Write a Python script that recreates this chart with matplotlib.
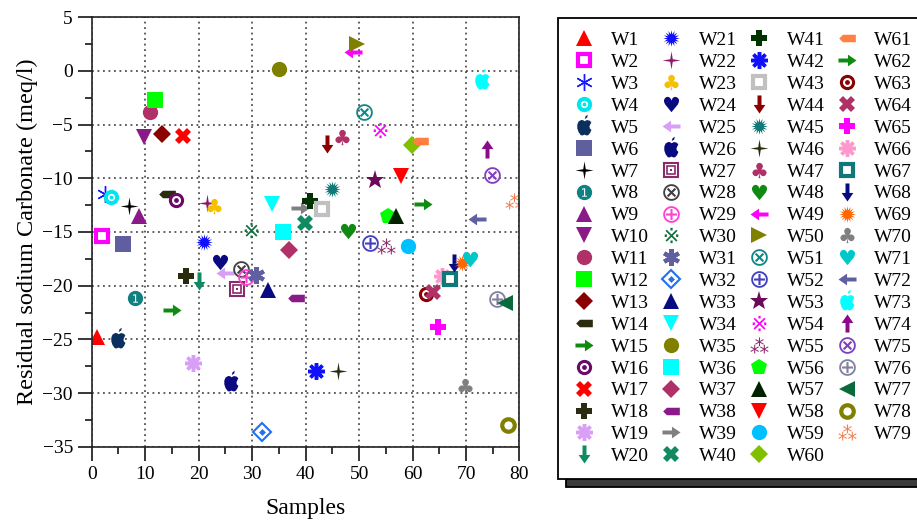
import numpy as np
import matplotlib
matplotlib.use("Agg")
import matplotlib.pyplot as plt
from matplotlib.path import Path
from matplotlib.transforms import Affine2D
from matplotlib.patches import Rectangle

plt.rcParams['font.family'] = ['Liberation Serif', 'DejaVu Serif']
plt.rcParams['mathtext.fontset'] = 'dejavusans'

# Data
wells = [f"W{i}" for i in range(1, 80)]
samples = [0.9, 1.9, 2.5, 3.7, 5.0, 5.8, 7.0, 8.1, 8.9, 9.8,
           10.9, 11.8, 13.1, 14.0, 15.0, 15.8, 17.0, 17.6, 19.0, 20.1,
           21.0, 21.5, 22.9, 24.0, 24.9, 26.0, 27.1, 28.0, 28.8, 29.8,
           30.8, 31.8, 33.0, 33.8, 35.0, 35.8, 36.9, 38.2, 39.0, 39.9,
           40.8, 41.9, 43.0, 44.0, 45.0, 46.1, 46.8, 48.0, 48.9, 49.6,
           51.0, 52.0, 53.0, 53.9, 55.0, 55.4, 56.9, 57.9, 59.1, 59.9,
           61.4, 62.0, 62.5, 63.9, 64.8, 65.6, 67.0, 67.7, 69.2, 69.9,
           70.8, 72.0, 72.9, 73.9, 74.9, 75.8, 77.3, 77.9, 79.0]
rsc = [-24.8, -15.4, -11.5, -11.7, -25.0, -16.1, -12.6, -21.1, -13.5, -6.2,
       -3.8, -2.7, -5.9, -11.5, -22.3, -12.0, -6.1, -19.1, -27.2, -19.6,
       -15.9, -12.3, -12.6, -17.8, -18.8, -29.0, -20.3, -18.4, -19.2, -14.8,
       -19.0, -33.6, -20.4, -12.4, 0.15, -15.0, -16.7, -21.1, -12.8, -14.2,
       -12.1, -27.9, -12.9, -6.8, -11.0, -27.9, -6.2, -14.9, 1.7, 2.5,
       -3.8, -16.0, -10.2, -5.5, -16.3, -13.5, -13.5, -9.8, -16.3, -6.9,
       -6.5, -12.4, -20.8, -20.6, -23.8, -19.1, -19.4, -17.9, -17.9, -29.3,
       -17.5, -13.75, -0.9, -7.3, -9.7, -21.2, -21.6, -33.0, -12.1]

# Symbol kind and colour for each well (Origin-like symbol cycle)
kinds = ['tri_up', 'hsq', 'ast_thin', 'dotcirc', 'apple', 'sq', 'star4', 'circ1', 'tri_up', 'tri_dn',
         'circ', 'sq', 'diamond', 'tag', 'arrow_r', 'dotcirc2', 'X', 'P', 'ast8', 'arrow_d',
         'burst', 'star4', 'club', 'heart', 'arrow_l', 'apple', 'csq', 'otimes', 'oplus', 'refmark',
         'ast6', 'cdiamond', 'tri_up', 'tri_dn', 'circ', 'sq', 'diamond', 'tag', 'arrow_r', 'X',
         'P', 'ast8', 'hsq', 'arrow_d', 'burst', 'star4', 'club', 'heart', 'arrow_l', 'tri_r',
         'otimes', 'oplus', 'star5', 'refmark', 'asterism', 'pent', 'tri_up', 'tri_dn', 'circ', 'diamond',
         'tag', 'arrow_r', 'dotcirc2', 'X', 'P', 'ast8', 'hsq', 'arrow_d', 'burst', 'club',
         'heart', 'arrow_l', 'apple', 'arrow_u', 'otimes', 'oplus', 'tri_l', 'ring', 'asterism']
colors = ['#ff0000', '#ff00ff', '#1a1aff', '#00e5ee', '#0b2f5e', '#5f5fa0', '#000000', '#108080', '#8b1a89', '#8b1a89',
          '#b03068', '#00ff00', '#8b0000', '#2b2b10', '#108a10', '#6b0a6b', '#ff0000', '#2b2b10', '#d8a0f5', '#108a60',
          '#1010ff', '#8b1a6b', '#f5c000', '#0a0a80', '#d8a0f5', '#0a0a80', '#8b2a6b', '#404040', '#ff40d0', '#107040',
          '#6060a0', '#2070f0', '#0a0a80', '#00ffff', '#808000', '#00ffff', '#b03068', '#8b1a89', '#808080', '#108a60',
          '#003300', '#1010ff', '#c0c0c0', '#8b0000', '#107878', '#2b2b10', '#b03068', '#108a10', '#ff00ff', '#808000',
          '#108888', '#4040c0', '#6b0a5b', '#ff00ff', '#8b2a6b', '#00ff00', '#002200', '#ff0000', '#00c0ff', '#80c000',
          '#ff8040', '#108a10', '#8b0000', '#b03068', '#ff00ff', '#ff99cc', '#107878', '#0a0a80', '#ff6600', '#808080',
          '#00c8c8', '#6060a0', '#00ffff', '#8b0a89', '#8040c0', '#8080a0', '#0a6a3a', '#808000', '#f08050']


def poly(pts):
    v = np.array(pts, dtype=float)
    return Path(np.vstack([v, v[:1]]), closed=True)


arrow_path = poly([(-1, 0.22), (0.05, 0.22), (0.05, 0.65), (1, 0), (0.05, -0.65), (0.05, -0.22), (-1, -0.22)])
tag_path = poly([(-1, 0), (-0.55, 0.45), (1, 0.45), (1, -0.45), (-0.55, -0.45)])
star4_path = poly([(0, 1), (0.14, 0.14), (1, 0), (0.14, -0.14), (0, -1), (-0.14, -0.14), (-1, 0), (-0.14, 0.14)])
apple_body = poly([(0, 0.42), (0.2, 0.52), (0.42, 0.47), (0.55, 0.33), (0.47, 0.18), (0.4, 0.02),
                   (0.43, -0.16), (0.56, -0.27), (0.45, -0.52), (0.3, -0.7), (0.15, -0.72), (0, -0.65),
                   (-0.15, -0.72), (-0.3, -0.7), (-0.48, -0.45), (-0.58, -0.15), (-0.58, 0.15),
                   (-0.48, 0.4), (-0.25, 0.53), (-0.1, 0.5)])
apple_leaf = poly([(0.02, 0.6), (0.08, 0.82), (0.26, 0.95), (0.22, 0.72)])
apple_path = Path.make_compound_path(apple_body, apple_leaf)


def rot(p, a):
    return Affine2D().rotate_deg(a).transform_path(p)


def m(marker, c, size=11, mfc=None, mec=None, mew=0.0):
    return dict(marker=marker, ms=size, mfc=c if mfc is None else mfc,
                mec=c if mec is None else mec, mew=mew)


def layers(kind, c):
    if kind == 'tri_up':
        return [m('^', c, 12)]
    if kind == 'tri_dn':
        return [m('v', c, 12)]
    if kind == 'tri_r':
        return [m('>', c, 12)]
    if kind == 'tri_l':
        return [m('<', c, 12)]
    if kind == 'hsq':
        return [m('s', c, 9, mfc='white', mew=3)]
    if kind == 'sq':
        return [m('s', c, 12)]
    if kind == 'circ':
        return [m('o', c, 11)]
    if kind == 'ring':
        return [m('o', c, 9, mfc='white', mew=3)]
    if kind == 'dotcirc':
        return [m('o', c, 11), m('o', c, 4, mec='white', mew=1.2)]
    if kind == 'dotcirc2':
        return [m('o', c, 11), m('o', c, 5, mec='white', mew=1.5)]
    if kind == 'circ1':
        return [m('o', c, 11), m('$1$', 'white', 6)]
    if kind == 'diamond':
        return [m('D', c, 9)]
    if kind == 'cdiamond':
        return [m('D', c, 9, mfc='white', mew=1.5), m('D', c, 3.5)]
    if kind == 'csq':
        return [m('s', c, 10, mfc='white', mew=1.5), m('s', c, 5.5, mfc='white', mew=1.2), m('s', c, 2)]
    if kind == 'X':
        return [m('X', c, 12)]
    if kind == 'P':
        return [m('P', c, 12)]
    if kind == 'pent':
        return [m('p', c, 12)]
    if kind == 'star5':
        return [m('*', c, 14)]
    if kind == 'star4':
        return [m(star4_path, c, 13)]
    if kind == 'burst':
        return [m((16, 1, 0), c, 12)]
    if kind == 'ast_thin':
        return [m((6, 2, 0), c, 12, mew=1.0)]
    if kind == 'ast6':
        return [m((6, 2, 0), c, 12, mew=3.0)]
    if kind == 'ast8':
        return [m((8, 2, 0), c, 12, mew=2.5)]
    if kind == 'arrow_r':
        return [m(arrow_path, c, 13)]
    if kind == 'arrow_l':
        return [m(rot(arrow_path, 180), c, 13)]
    if kind == 'arrow_u':
        return [m(rot(arrow_path, 90), c, 13)]
    if kind == 'arrow_d':
        return [m(rot(arrow_path, -90), c, 13)]
    if kind == 'tag':
        return [m(tag_path, c, 12)]
    if kind == 'apple':
        return [m(apple_path, c, 17)]
    if kind == 'club':
        return [m('$\u2663$', c, 11)]
    if kind == 'heart':
        return [m('$\u2665$', c, 11)]
    if kind == 'otimes':
        return [m('$\\otimes$', c, 12)]
    if kind == 'oplus':
        return [m('$\\oplus$', c, 12)]
    if kind == 'refmark':
        return [m('$\u203b$', c, 11)]
    if kind == 'asterism':
        return [m('$\u2042$', c, 13)]
    return [m('o', c, 10)]


fig = plt.figure(figsize=(9.17, 5.25), dpi=100)
ax = fig.add_axes([0.1, 0.1486, 0.4665, 0.819])

handles = []
for name, xv, yv, kind, col in zip(wells, samples, rsc, kinds, colors):
    hs = []
    for lay in layers(kind, col):
        h, = ax.plot([xv], [yv], ls='none', **lay)
        hs.append(h)
    handles.append(tuple(hs))

ax.set_xlim(0, 80)
ax.set_ylim(-35, 5)
ax.set_xticks(np.arange(0, 81, 10))
ax.set_xticks(np.arange(5, 80, 10), minor=True)
ax.set_yticks(np.arange(-35, 6, 5))
ax.set_yticks(np.arange(-32.5, 5, 5), minor=True)
ax.tick_params(which='major', direction='out', length=10, width=1.1, labelsize=14)
ax.tick_params(which='minor', direction='out', length=5, width=1.1)
ax.grid(True, which='major', linestyle=(0, (1.2, 2.4)), color='#333333', linewidth=1.1)
for s in ax.spines.values():
    s.set_linewidth(1.2)
    s.set_color('#222222')
ax.set_xlabel('Samples', fontsize=17, labelpad=11)
ax.set_ylabel('Residual sodium Carbonate (meq/l)', fontsize=17.5, labelpad=3)

leg = fig.legend(handles, wells, ncol=4, loc='upper left',
                 bbox_to_anchor=(558 / 917, 1 - 18 / 525), bbox_transform=fig.transFigure,
                 borderaxespad=0, numpoints=1, fancybox=False, framealpha=1,
                 edgecolor='black', prop={'family': 'Liberation Serif', 'size': 14},
                 handlelength=1.25, handletextpad=0.8, columnspacing=0.5,
                 labelspacing=0.22, borderpad=0.7)
leg.get_frame().set_linewidth(1.3)

# drop shadow behind legend box
fig.canvas.draw()
bb = leg.get_window_extent().transformed(fig.transFigure.inverted())
dx, dy = 8 / 917, 8 / 525
shadow = Rectangle((bb.x0 + dx, bb.y0 - dy), bb.width, bb.height, transform=fig.transFigure,
                   facecolor='#3a3a3a', edgecolor='black', linewidth=1.3, zorder=leg.get_zorder() - 1)
fig.add_artist(shadow)

fig.savefig('out.png', dpi=100)
